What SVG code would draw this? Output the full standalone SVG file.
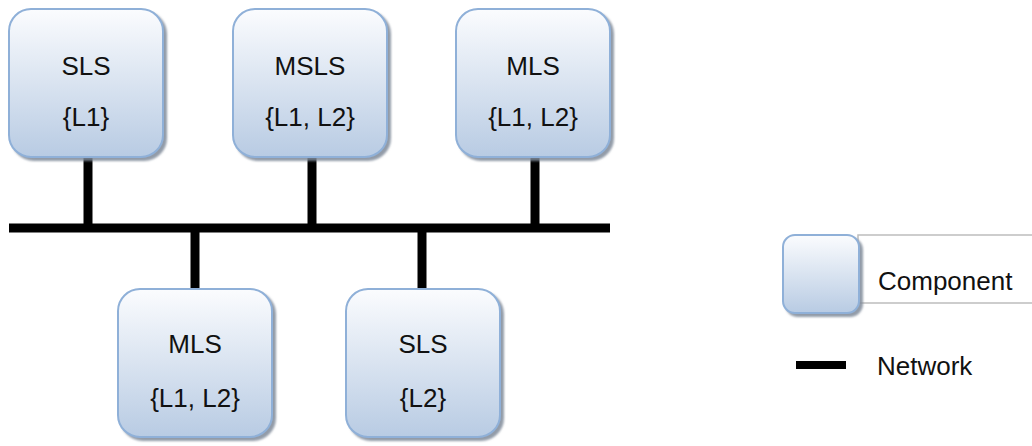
<svg xmlns="http://www.w3.org/2000/svg" width="1032" height="446" viewBox="0 0 1032 446">
<defs>
<linearGradient id="g" x1="0" y1="0" x2="0" y2="1">
<stop offset="0" stop-color="#fbfcfe"/>
<stop offset="1" stop-color="#b8cbe3"/>
</linearGradient>
<filter id="sh" x="-10%" y="-10%" width="130%" height="130%">
<feGaussianBlur in="SourceAlpha" stdDeviation="1"/>
<feOffset dx="3" dy="3" result="o"/>
<feFlood flood-color="#7f8a99" flood-opacity="0.85"/>
<feComposite in2="o" operator="in"/>
<feMerge><feMergeNode/><feMergeNode in="SourceGraphic"/></feMerge>
</filter>
</defs>
<style>
.box{fill:url(#g);stroke:#8fb0d8;stroke-width:2;filter:url(#sh)}
.t{font-family:"Liberation Sans",Arial,sans-serif;font-size:26px;fill:#111;text-anchor:middle}
.lt{font-family:"Liberation Sans",Arial,sans-serif;font-size:26px;fill:#111}
.net{stroke:#000;stroke-width:9;fill:none}
</style>
<g id="connectors">
<line class="net" x1="9" y1="228" x2="610" y2="228"/>
<line class="net" x1="88" y1="156" x2="88" y2="228"/>
<line class="net" x1="312" y1="156" x2="312" y2="228"/>
<line class="net" x1="535" y1="156" x2="535" y2="228"/>
<line class="net" x1="195" y1="228" x2="195" y2="290"/>
<line class="net" x1="422" y1="228" x2="422" y2="290"/>
</g>
<g id="n1"><rect class="box" x="9" y="9" width="154" height="148" rx="22"/><text class="t" x="86" y="75">SLS</text><text class="t" x="86" y="126">{L1}</text></g>
<g id="n2"><rect class="box" x="233" y="9" width="154" height="148" rx="22"/><text class="t" x="310" y="75">MSLS</text><text class="t" x="310" y="126">{L1, L2}</text></g>
<g id="n3"><rect class="box" x="456" y="9" width="154" height="148" rx="22"/><text class="t" x="533" y="75">MLS</text><text class="t" x="533" y="126">{L1, L2}</text></g>
<g id="n4"><rect class="box" x="118" y="289" width="154" height="148" rx="22"/><text class="t" x="195" y="353">MLS</text><text class="t" x="195" y="407">{L1, L2}</text></g>
<g id="n5"><rect class="box" x="346" y="289" width="154" height="148" rx="22"/><text class="t" x="423" y="353">SLS</text><text class="t" x="423" y="407">{L2}</text></g>
<g id="legend">
<rect x="858" y="235" width="190" height="68" fill="#fff" stroke="#bdbdbd" stroke-width="1.5"/>
<rect class="box" x="783" y="235" width="76" height="78" rx="12"/>
<text class="lt" x="878" y="290">Component</text>
<line x1="796" y1="365" x2="846" y2="365" stroke="#000" stroke-width="8"/>
<text class="lt" x="877" y="375">Network</text>
</g>
</svg>
